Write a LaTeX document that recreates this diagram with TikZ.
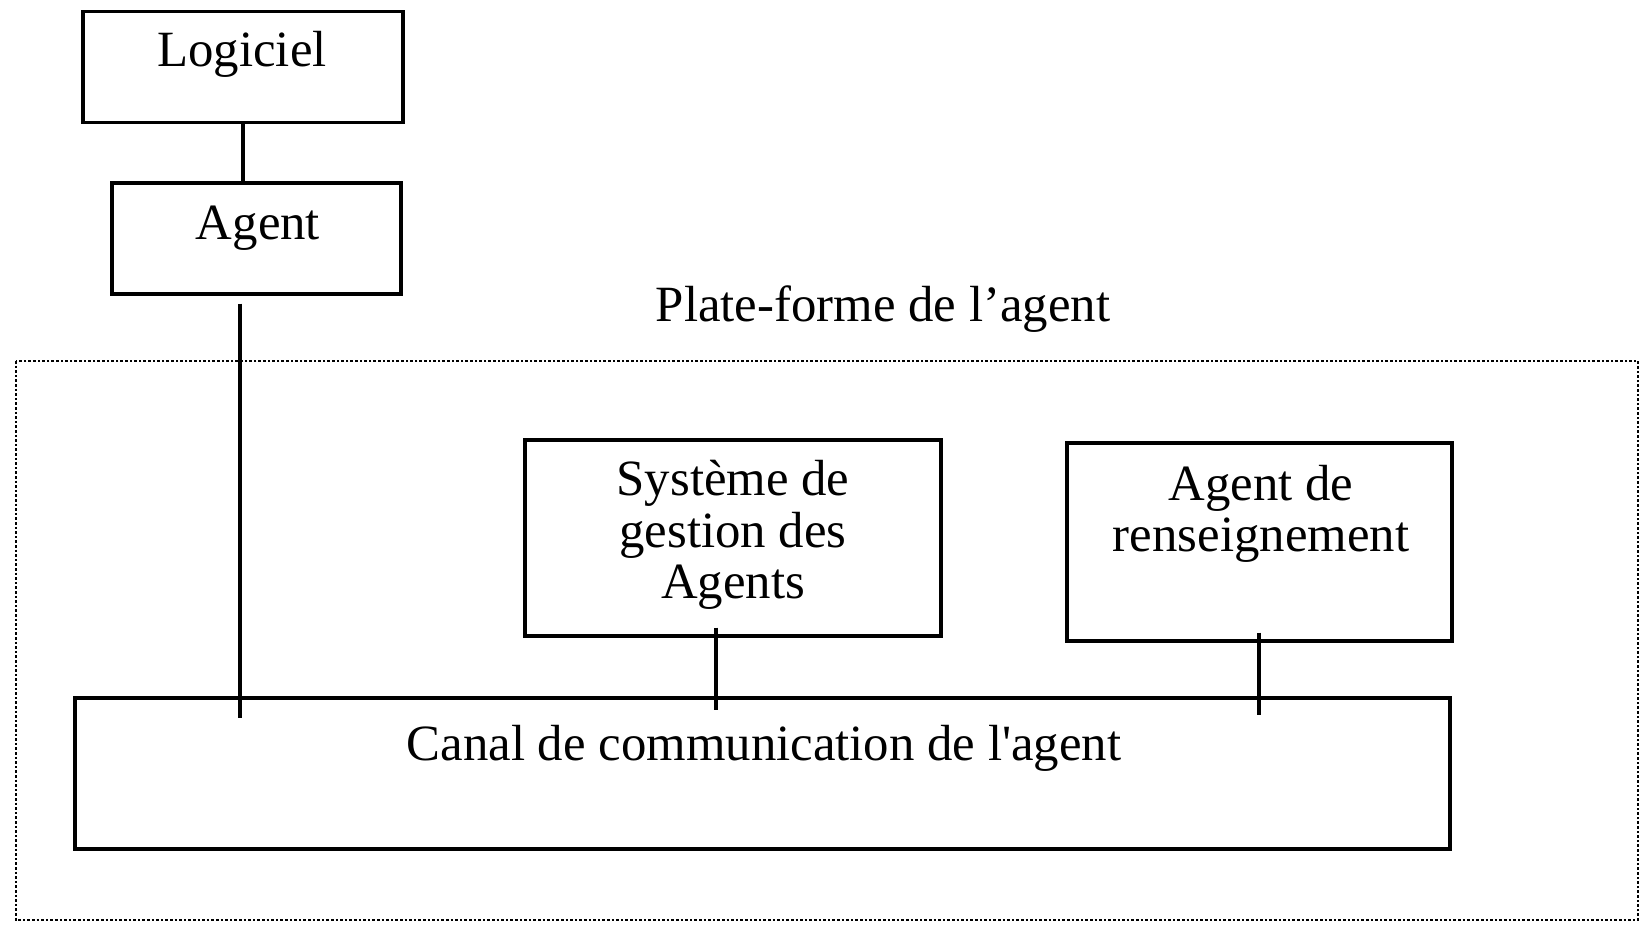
\documentclass[tikz,border=0pt]{standalone}
\usepackage{fontspec}
\newfontfamily\diagfont{Liberation Serif}
\begin{document}
\begin{tikzpicture}[x=0.5pt,y=-0.5pt,
  box/.style={draw, line width=1.6pt, rectangle, inner sep=0pt},
  lbl/.style={font=\diagfont\fontsize{25.4}{25.8}\selectfont, align=center, inner sep=0pt},
  conn/.style={line width=1.6pt},
  platform/.style={densely dotted, line width=1.3pt}]
\useasboundingbox (0,0) rectangle (1642,944);
% platform frame
\draw[platform] (16,361) rectangle (1638,920);
% boxes
\node[box, minimum width=160pt, minimum height=55.5pt] (logiciel) at (243,67) {};
\node[lbl] (tlog) at (242,54) {Logiciel};
\node[box, minimum width=144.5pt, minimum height=55.5pt] (agent) at (256.5,238.5) {};
\node[lbl] (tagent) at (258,228) {Agent};
\node[lbl] (tplat) at (883,309) {Plate-forme de l’agent};
\node[box, minimum width=208pt, minimum height=98pt] (sys) at (733,538) {};
\node[lbl] (tsys) at (733,535) {Système de\\gestion des\\Agents};
\node[box, minimum width=192.5pt, minimum height=99pt] (rens) at (1259.5,542) {};
\node[lbl] (trens) at (1261,514) {Agent de\\renseignement};
\node[box, minimum width=687.5pt, minimum height=75.5pt] (canal) at (762.5,773.5) {};
\node[lbl] (tcanal) at (764,748) {Canal de communication de l'agent};
% connectors
\coordinate (c1) at (240,718);
\coordinate (c2) at (716,710);
\coordinate (c3) at (1259,715);
\draw[conn] (logiciel.south) -- (logiciel.south |- agent.north);
\draw[conn] (agent.south -| c1) ++(0,8) -- (c1);
\draw[conn] (sys.south -| c2) ++(0,-10) -- (c2);
\draw[conn] (rens.south -| c3) ++(0,-10) -- (c3);
\end{tikzpicture}
\end{document}
